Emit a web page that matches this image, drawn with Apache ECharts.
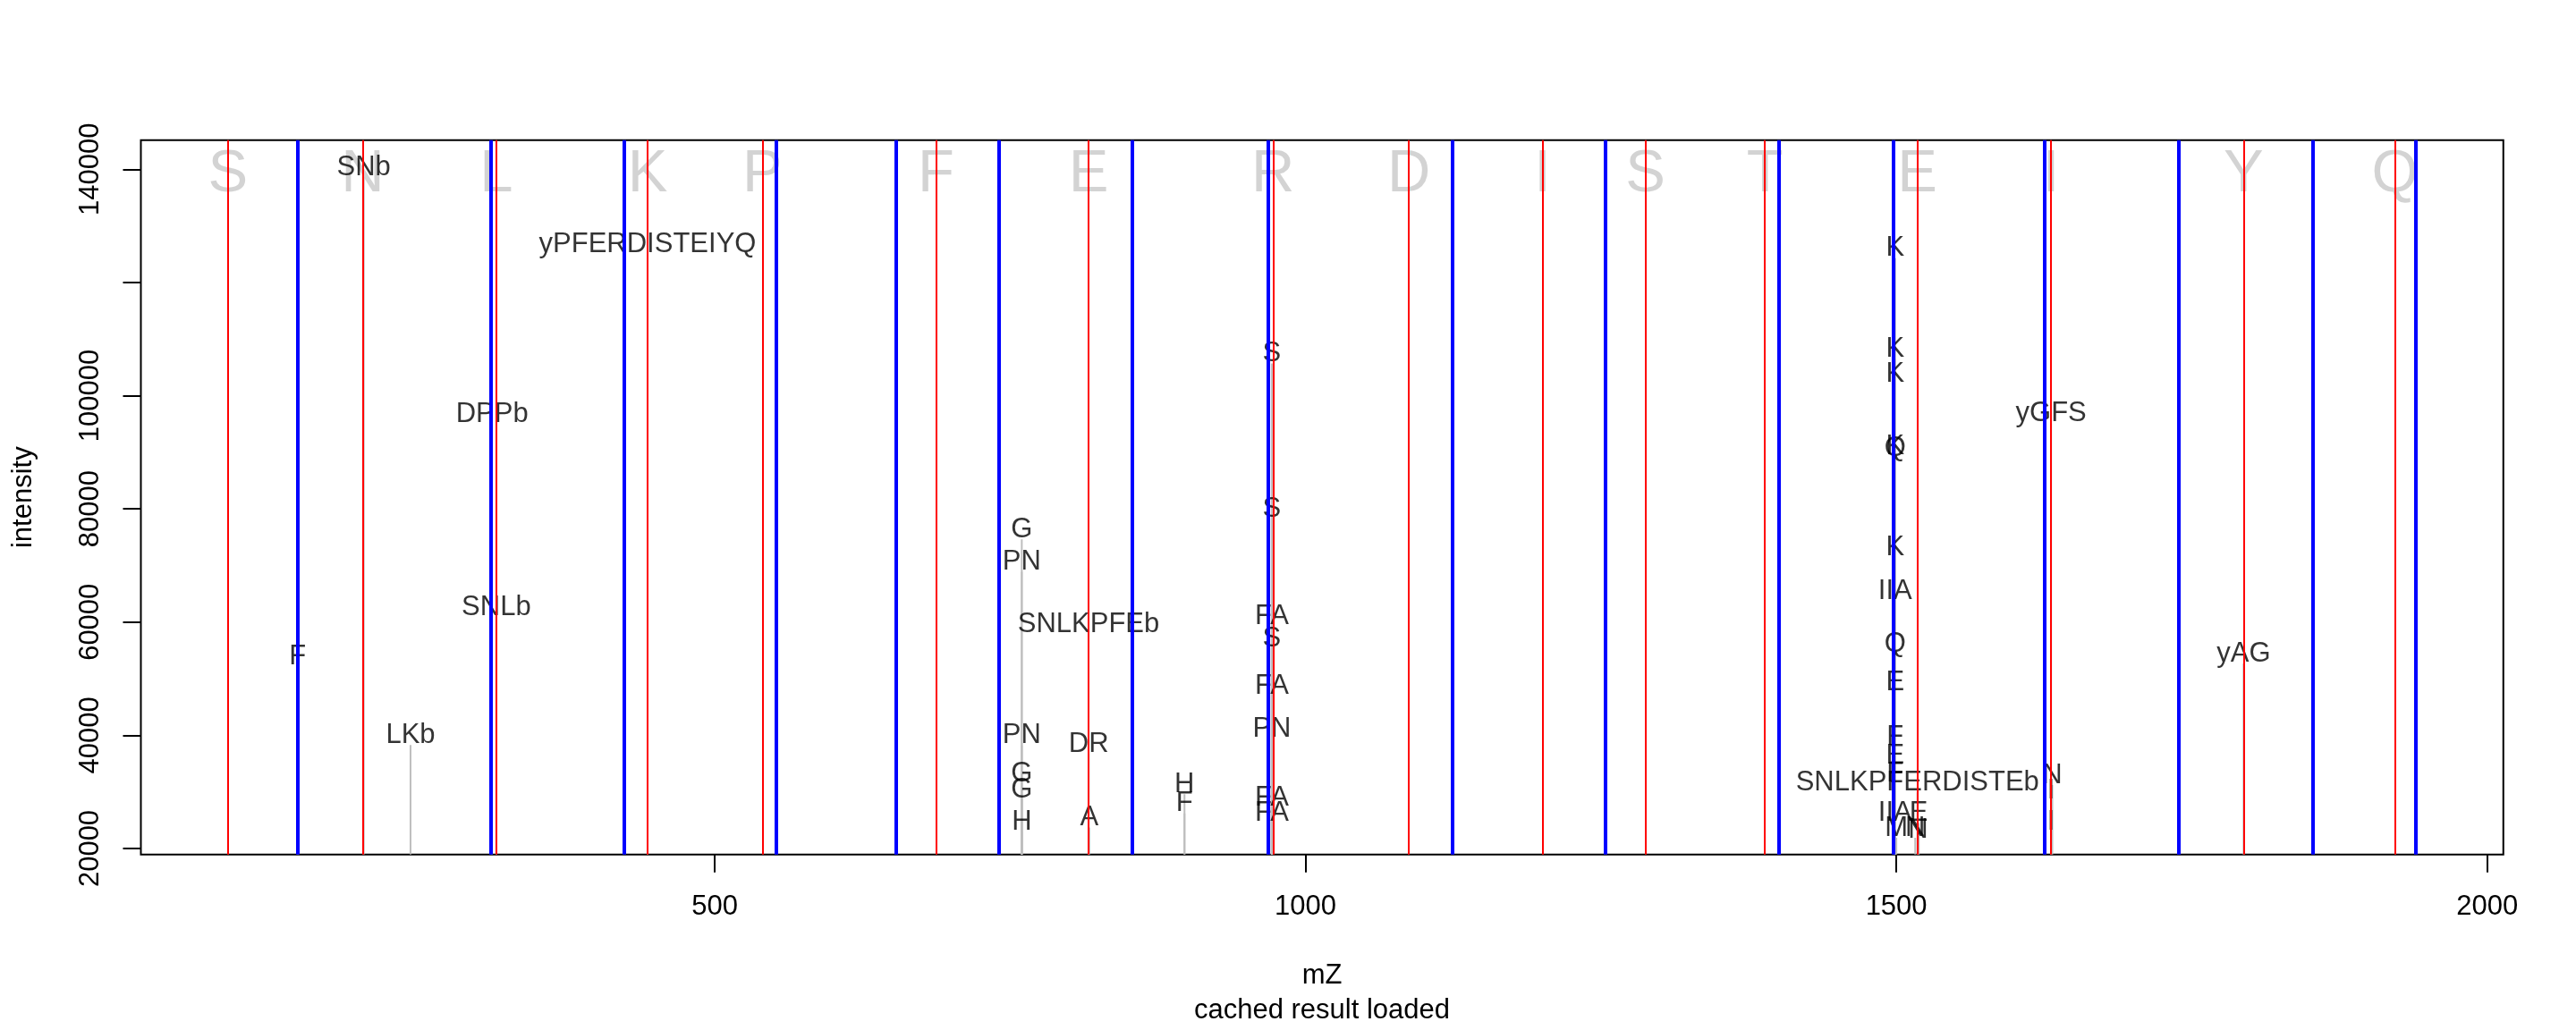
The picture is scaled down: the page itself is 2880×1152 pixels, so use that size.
<!DOCTYPE html>
<html><head><meta charset="utf-8">
<script src="https://cdn.jsdelivr.net/npm/echarts@6/dist/echarts.min.js"></script>
<style>html,body{margin:0;padding:0;background:#fff;} #c{width:2880px;height:1152px;}</style>
</head><body><div id="c"></div>
<script>
// Peptide sequence letters (drawn at the b-ion positions)
const sequence = ['S','N','L','K','P','F','E','R','D','I','S','T','E','I','Y','Q'];
// b-ion positions (red lines), m/z
const bIons = [88.04, 202.08, 315.17, 443.26, 540.32, 687.38, 816.43, 972.53, 1087.55, 1200.64, 1287.67, 1388.72, 1517.76, 1630.84, 1793.91, 1921.97];
// y-ion positions (blue lines), m/z
const yIons = [147.1, 310.3, 423.3, 552.3, 653.3, 740.3, 853.4, 968.5, 1124.5, 1253.8, 1400.6, 1497.6, 1625.5, 1738.8, 1852.8, 1939.6];
// annotated peaks
const peakMz = [147.1, 203.0, 242.6, 311.6, 315.2, 443.2,
  759.9, 759.9, 759.9, 759.9, 759.9, 759.9,
  816.4, 816.5, 817.0, 897.6, 897.6,
  971.5, 971.5, 971.5, 971.5, 971.5, 971.5, 971.5, 971.5,
  1499.0, 1499.0, 1499.0, 1499.0, 1499.0, 1499.0, 1499.0, 1499.0, 1499.0, 1499.0, 1499.0, 1499.0,
  1517.9, 1499.0, 1519.0, 1500.0, 1516.0, 1518.5,
  1631.0, 1632.0, 1631.0, 1631.0, 1793.9];
const peakIntensity = [52100, 138600, 38300, 95000, 60900, 125000,
  74600, 68900, 38200, 31400, 28600, 23000,
  57900, 36700, 23700, 29600, 26200,
  105700, 78200, 59200, 55300, 46900, 39400, 27200, 24500,
  124300, 106500, 102100, 89300, 89000, 71400, 63700, 54300, 47600, 38000, 34600, 31400,
  29900, 24500, 24500, 21900, 21900, 21500,
  95100, 31200, 28500, 23000, 52700];
const peakLabels = ['F', 'SNb', 'LKb', 'DPPb', 'SNLb', 'yPFERDISTEIYQ',
  'G', 'PN', 'PN', 'G', 'G', 'H',
  'SNLKPFEb', 'DR', 'A', 'H', 'F',
  'S', 'S', 'FA', 'S', 'FA', 'PN', 'FA', 'FA',
  'K', 'K', 'K', 'K', 'Q', 'K', 'IIA', 'Q', 'E', 'F', 'E', 'F',
  'SNLKPFERDISTEb', 'IIA', 'E', 'M', 'N', 'N',
  'yGFS', 'N', 'I', 'I', 'yAG'];
const xTicks = [500, 1000, 1500, 2000];
const yTicks = [20000, 40000, 60000, 80000, 100000, 120000, 140000];
const yTickLabels = [20000, 40000, 60000, 80000, 100000, 140000];
const seqLabelY = 135400;

const X_MIN = 14.4, X_MAX = 2013.7, Y_MIN = 18940, Y_MAX = 145150;
const FONT = 'Liberation Sans, Arial, Helvetica, sans-serif';

const chart = echarts.init(document.getElementById('c'), null, {renderer: 'canvas'});
chart.setOption({
  animation: false,
  backgroundColor: '#fff',
  grid: {left: 157.5, right: 81.25, top: 156.7, bottom: 196.3, show: true, borderColor: '#000', borderWidth: 2, backgroundColor: 'transparent'},
  xAxis: {
    type: 'value', min: X_MIN, max: X_MAX,
    name: 'mZ', nameLocation: 'middle', nameGap: 120,
    nameTextStyle: {fontSize: 31, fontFamily: FONT, color: '#000'},
    axisLine: {show: false},
    splitLine: {show: false},
    axisTick: {show: true, length: 20, customValues: xTicks, lineStyle: {color: '#000', width: 2}},
    axisLabel: {show: true, customValues: xTicks, margin: 43, fontSize: 31, fontFamily: FONT, color: '#000', formatter: v => String(v)}
  },
  yAxis: {
    type: 'value', min: Y_MIN, max: Y_MAX,
    name: 'intensity', nameLocation: 'middle', nameGap: 116, nameRotate: 90,
    nameTextStyle: {fontSize: 31, fontFamily: FONT, color: '#000'},
    axisLine: {show: false},
    splitLine: {show: false},
    axisTick: {show: true, length: 20, customValues: yTicks, lineStyle: {color: '#000', width: 2}},
    axisLabel: {show: true, customValues: yTickLabels, rotate: 90, margin: 41, fontSize: 31, fontFamily: FONT, color: '#000', formatter: v => String(v)}
  },
  graphic: [{
    type: 'text', x: 1478, y: 1130,
    style: {text: 'cached result loaded', fontSize: 31, fontFamily: FONT, fill: '#000', align: 'center', verticalAlign: 'middle'}
  }],
  series: [
    {
      type: 'custom', z: 1, silent: true, clip: true,
      data: peakMz.map((m, i) => [m, peakIntensity[i]]),
      renderItem: function (params, api) {
        const top = api.coord([api.value(0), api.value(1)]);
        const bot = api.coord([api.value(0), Y_MIN]);
        return {type: 'line', shape: {x1: top[0], y1: bot[1], x2: top[0], y2: top[1]}, style: {stroke: '#bebebe', lineWidth: 2}};
      }
    },
    {
      type: 'scatter', z: 2, silent: true, symbolSize: 1,
      itemStyle: {color: 'rgba(0,0,0,0)'},
      data: bIons.map((v, i) => [v, seqLabelY]),
      label: {show: true, position: 'inside', formatter: p => sequence[p.dataIndex], color: '#c8c8c8', fontSize: 67, fontFamily: FONT, offset: [0, -23]}
    },
    {
      type: 'scatter', z: 3, silent: true, symbolSize: 1,
      itemStyle: {color: 'rgba(0,0,0,0)'},
      data: peakMz.map((m, i) => [m, peakIntensity[i]]),
      label: {show: true, position: 'inside', formatter: p => peakLabels[p.dataIndex], color: '#000', fontSize: 31, fontFamily: FONT, offset: [0, -11]}
    },
    {
      type: 'line', z: 5, silent: true, data: [],
      markLine: {silent: true, symbol: 'none', animation: false, label: {show: false},
        lineStyle: {color: '#ff0000', width: 2, type: 'solid'},
        data: bIons.map(v => ({xAxis: v}))}
    },
    {
      type: 'line', z: 6, silent: true, data: [],
      markLine: {silent: true, symbol: 'none', animation: false, label: {show: false},
        lineStyle: {color: '#0000ff', width: 4, type: 'solid'},
        data: yIons.map(v => ({xAxis: v}))}
    }
  ]
});
</script>
</body></html>
